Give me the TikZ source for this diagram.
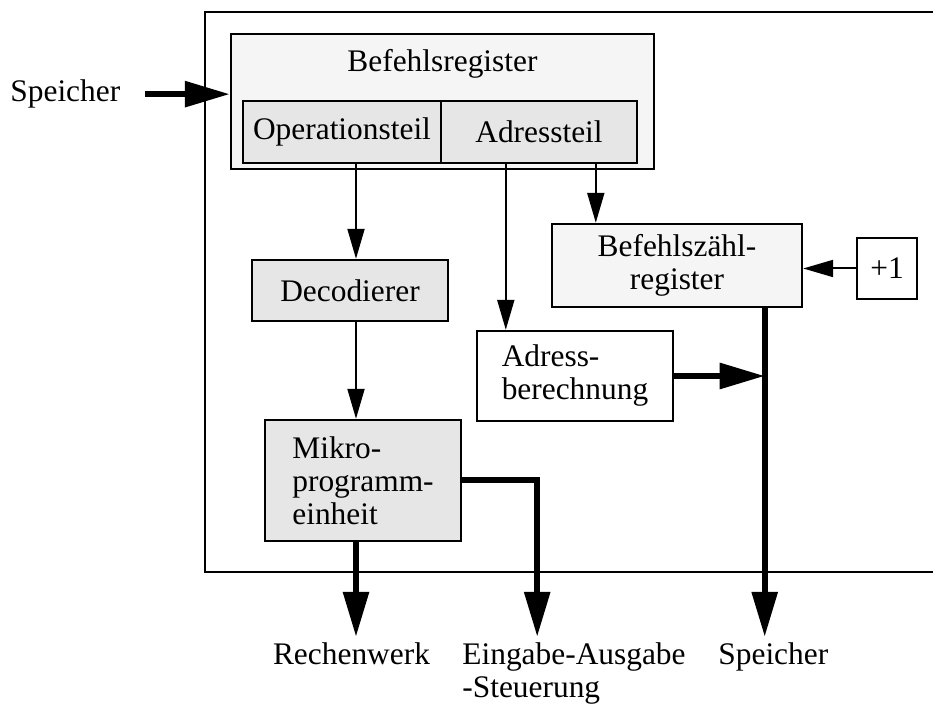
\documentclass[tikz,border=0pt]{standalone}
\usepackage{fontspec}
\setmainfont{Liberation Serif}
\usetikzlibrary{arrows.meta}
\definecolor{regfill}{HTML}{F5F5F5}
\definecolor{unitfill}{HTML}{E6E6E6}
\begin{document}
\begin{tikzpicture}[x=0.5pt, y=-0.5pt,
    font=\fontsize{15.7pt}{16.5pt}\selectfont,
    box/.style={draw, line width=1.2pt, inner sep=0pt},
    txt/.style={inner sep=0pt},
    arr/.style={line width=1pt, -{Triangle[length=15pt,width=8.5pt]}},
    bigarr/.style={line width=3pt, -{Triangle[length=22.5pt,width=12.5pt]}}]
\useasboundingbox (0,0) rectangle (933,704);

% Steuerwerk (open to the right)
\draw[line width=1.2pt] (933,12) -- (205,12) -- (205,572) -- (933,572);

% Befehlsregister
\node[box, fill=regfill, minimum width=211.5pt, minimum height=67.5pt] (breg) at (442.5,101.5) {};
\node[txt, anchor=base] (bregtxt) at ([yshift=-19.4pt]breg.north) {Befehlsregister};
\node[box, fill=unitfill, minimum width=99pt, minimum height=31pt] (op) at (342,132) {Operationsteil};
\node[box, fill=unitfill, minimum width=98pt, minimum height=31pt] (adr) at (539,132) {Adressteil};

% Units
\node[box, fill=unitfill, minimum width=98pt, minimum height=30.5pt] (dec) at (350,290.5) {Decodierer};
\node[box, fill=unitfill, minimum width=98pt, minimum height=60.5pt, align=left] (mikro) at (363,480.5) {Mikro-\\programm-\\einheit};
\node[box, fill=white, minimum width=98pt, minimum height=45pt, align=left] (adrb) at (575,376) {Adress-\\berechnung};
\node[box, fill=regfill, minimum width=125pt, minimum height=41.5pt, align=center] (bzr) at (677,265.5) {Befehlszähl-\\register};
\node[box, fill=white, minimum width=30pt, minimum height=30.5pt] (plus) at (887,268.5) {+1};

% Outside labels
\node[txt, anchor=base west] (spin) at (10,101.7) {Speicher};
\node[txt, anchor=base] (rw) at (351.5,665) {Rechenwerk};
\node[txt, anchor=base west, align=left] (ea) at (462,698) {Eingabe-Ausgabe\\-Steuerung};
\node[txt, anchor=base west] (spout) at (718,665) {Speicher};

% Thin connectors
\draw[arr] ([xshift=3pt]dec.north |- op.south) -- ([xshift=3pt]dec.north);
\draw[arr] ([xshift=3pt]dec.south) -- ([xshift=3pt]dec.south |- mikro.north);
\draw[arr] ([xshift=15pt]adrb.north west |- adr.south) -- ([xshift=15pt]adrb.north west);
\draw[arr] ([xshift=22.5pt]bzr.north west |- adr.south) -- ([xshift=22.5pt]bzr.north west);
\draw[arr] (plus.west) -- (plus.west -| bzr.east);

% Thick connectors
\coordinate (bus) at ([xshift=-19.25pt]bzr.south east);
\coordinate (ioturn) at ([xshift=37.5pt]mikro.east);
\draw[bigarr] ([xshift=12pt]spin.east) -- (spin.east -| breg.west);
\draw[bigarr, shorten >=3pt] (bus) -- (bus |- spout.north);
\draw[bigarr] (adrb.east) -- (adrb.east -| bus);
\draw[bigarr, shorten >=3pt] ([xshift=-3.5pt]mikro.south) -- ([xshift=-3.5pt]mikro.south |- rw.north);
\draw[bigarr, shorten >=3pt] (mikro.east) -- (ioturn) -- (ioturn |- ea.north);

\end{tikzpicture}
\end{document}
